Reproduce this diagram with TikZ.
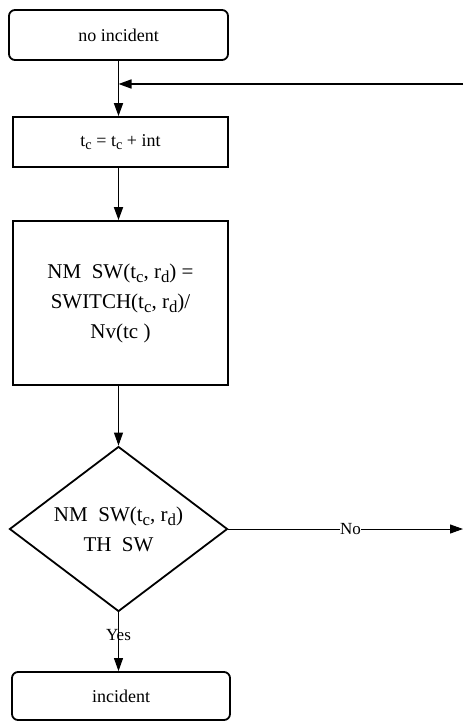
\documentclass[tikz,border=0pt]{standalone}
\usepackage{fontspec}
\setmainfont{Liberation Serif}
\usetikzlibrary{
  shapes.geometric, % For the decision diamond
  arrows.meta % For arrow tips
}

\newcommand{\ix}[1]{\raisebox{-0.45ex}{\scalebox{0.8}{#1}}}

\begin{document}
\begin{tikzpicture}[
      x=1pt, y=1pt,
      >={Triangle[length=13pt, width=9pt]}, % Default arrow tip
      txt/.style={font=\fontsize{18}{29}\selectfont, align=center},
      bigtxt/.style={font=\fontsize{21}{30}\selectfont, align=center},
      box/.style={draw, txt, line width=1.8pt, minimum width=215pt, inner sep=0pt},
      endbox/.style={box, rounded corners=6pt},
      decision/.style={diamond, aspect=1.32, draw, bigtxt, line width=1.8pt, minimum width=218pt, minimum height=165pt, inner sep=0pt},
      flow/.style={->, line width=1.7pt}, % Thick connectors
      thinflow/.style={->, line width=1pt}, % Thin connectors
      lab/.style={font=\fontsize{17}{19}\selectfont, inner sep=0.5pt},
    ]

    \useasboundingbox (0,0) rectangle (463,-722);

    % Knoten
    \node[endbox, minimum width=219pt, minimum height=50pt] (start) at (118.5,-35) {no incident};
    \node[box, minimum height=50pt] (update) at (120.5,-142) {t\ix{c} = t\ix{c} + int};
    \node[box, bigtxt, minimum height=164pt] (ratio) at (120.5,-303)
      {NM~~SW(t\ix{c}, r\ix{d}) =\\ SWITCH(t\ix{c}, r\ix{d})/\\ Nv(tc )};
    \node[decision] (test) at (118.5,-529) {NM~~SW(t\ix{c}, r\ix{d})\\ TH~~SW};
    \node[endbox, minimum width=218pt, minimum height=48pt] (stop) at (121,-696) {incident};

    % Freie Enden
    \coordinate (back) at (463,-84);
    \coordinate (noend) at (463,-529);

    % Verbindungen
    \draw[flow] (start.south) -- (start.south |- update.north);
    \draw[flow] (back) -- (start.south |- back);
    \draw[flow] (start.south |- update.south) -- (start.south |- ratio.north);
    \draw[thinflow] (start.south |- ratio.south) -- (test.north);
    \draw[thinflow] (test.east) -- node[lab, pos=0.52, fill=white] {No} (noend);
    \draw[thinflow] (test.south) -- node[lab, pos=0.39] {Yes} (test.south |- stop.north);

  \end{tikzpicture}
\end{document}
